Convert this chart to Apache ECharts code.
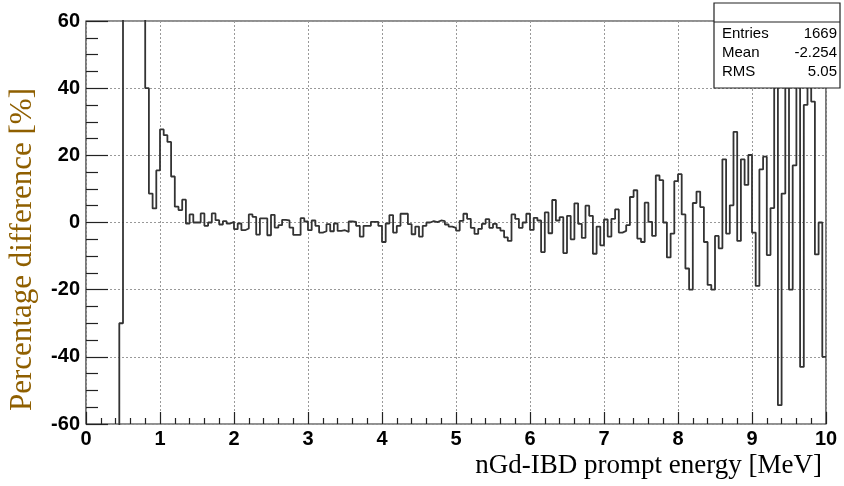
<!DOCTYPE html>
<html><head><meta charset="utf-8">
<script src="https://cdn.jsdelivr.net/npm/echarts@6/dist/echarts.min.js"></script>
<style>html,body{margin:0;padding:0;background:#fff}#c{width:844px;height:486px}</style>
</head><body><div id="c"></div>
<script>
// Histogram: percentage difference per 0.05 MeV bin, bins from 0 to 10 MeV
const binWidth = 0.05;
const values = [
  -100,-100,-100,-100,-100,-100,-100,-100,-100,-30,
  100,100,100,100,100,100,40,8.6,4.2,15.5,
  27.7,26,24,13.7,4.7,3.7,6.8,-0.3,2.4,0,
  0,2.7,-1,0,2.7,0.7,-0.6,0.4,-0.3,0.2,
  -2,-0.3,-2.3,-1.8,2.4,1.7,-3.6,1.2,1.2,-3.8,
  2.3,-1.5,-0.8,0.8,0.6,-1.5,-3.7,-3.7,1.3,0.3,
  -2.3,0.6,-1,-3,-2.6,-0.5,-2.6,-0.3,-2.5,-2.3,
  -2.8,0.3,0.2,-1,-4.2,-1,-1,0.2,0.2,-1,
  -5.8,-0.3,2.2,-3,-1,2.6,2.6,-0.5,-3.5,-1.2,
  -4.2,-1,0,0.4,0.1,0.6,0.4,-0.6,-1.2,-1.6,
  -2.4,0.5,2.6,1.1,-1.6,-3.4,-1.9,-0.4,1,-1.6,
  -0.4,-1.6,-2.4,-4.4,-5.5,2.4,1.1,-1.6,0,2.6,
  -2.2,1.4,0.6,-8.8,3,-3.2,6.7,0.6,1.6,-9.1,
  2,-5,5.7,-0.4,-4.6,5,2,-9.3,-1.2,-6.8,
  0.9,-4.2,1.1,3.9,-3,-2.5,-0.8,7.6,9.6,-4.8,
  -5.8,5.9,0.2,-4,14,12.6,0,-10.4,-3.3,12.3,
  14.4,2.4,-13.7,-20,5.8,9.2,4.6,-5.8,-18.6,-20,
  -4,-7.7,18.8,-3.3,5.1,27,-5.5,18.8,11.2,20.1,
  -3,-18.9,15.8,19.6,-9.7,4.3,70,-54.4,8.6,55,
  -20,17,65,-43,35,50,36,-9.5,0,-40
];
const xTicks = [0,1,2,3,4,5,6,7,8,9,10];
const yTicks = [-60,-40,-20,0,20,40,60];
const statsNames = ['Entries','Mean','RMS'];
const statsValues = ['1669','-2.254','5.05'];
const xTitle = 'nGd-IBD prompt energy [MeV]';
const yTitle = 'Percentage difference [%]';

const lowEdges = values.map((_, i) => +(i * binWidth).toFixed(2));
const seriesData = values.map((v, i) => [lowEdges[i], v]);
seriesData.push([xTicks[xTicks.length - 1], values[values.length - 1]]);

const labelFont = '"Liberation Sans Narrow","Arial Narrow","Liberation Sans",Arial,sans-serif';
const chart = echarts.init(document.getElementById('c'), null, {renderer: 'canvas'});
const statRows = [34, 53, 72];
const graphics = [
  {type:'rect', z:100, shape:{x:714, y:3, width:126, height:85}, style:{fill:'#fff', stroke:'#222', lineWidth:1.2}},
  {type:'line', z:101, shape:{x1:714, y1:22, x2:840, y2:22}, style:{stroke:'#222', lineWidth:1.2}},
  {type:'text', z:101, x:822, y:466, style:{text:xTitle, font:'27px "Liberation Serif", "Times New Roman", serif', fill:'#000', align:'right', verticalAlign:'middle'}},
  {type:'text', z:101, x:23, y:88, rotation:Math.PI/2, style:{text:yTitle, font:'31px "Liberation Serif", "Times New Roman", serif', fill:'#8f5f00', align:'right', verticalAlign:'middle'}}
];
statsNames.forEach((n, i) => {
  graphics.push({type:'text', z:101, x:722, y:statRows[i], style:{text:n, font:'15px "Liberation Sans", Arial, sans-serif', fill:'#000', align:'left', verticalAlign:'middle'}});
  graphics.push({type:'text', z:101, x:837, y:statRows[i], style:{text:statsValues[i], font:'15px "Liberation Sans", Arial, sans-serif', fill:'#000', align:'right', verticalAlign:'middle'}});
});

chart.setOption({
  animation: false,
  backgroundColor: '#fff',
  grid: {left:86, right:18, top:21, bottom:62, show:true, borderColor:'#222', borderWidth:1.2, backgroundColor:'rgba(0,0,0,0)'},
  xAxis: {
    type:'value', min:xTicks[0], max:xTicks[xTicks.length-1], interval:1,
    axisLine:{show:false, onZero:false},
    axisTick:{show:true, inside:true, length:12, lineStyle:{color:'#222', width:1.2}},
    minorTick:{show:true, splitNumber:5, length:6, lineStyle:{color:'#222', width:1.2}},
    splitLine:{show:true, lineStyle:{type:[2,2], color:'#999', width:1}},
    axisLabel:{margin:5, fontSize:20, fontWeight:'bold', color:'#000', fontFamily:labelFont}
  },
  yAxis: {
    type:'value', min:yTicks[0], max:yTicks[yTicks.length-1], interval:20,
    axisLine:{show:false, onZero:false},
    axisTick:{show:true, inside:true, length:22, lineStyle:{color:'#222', width:1.2}},
    minorTick:{show:true, splitNumber:4, length:12, lineStyle:{color:'#222', width:1.2}},
    splitLine:{show:true, lineStyle:{type:[2,2], color:'#999', width:1}},
    axisLabel:{margin:6, fontSize:20, fontWeight:'bold', color:'#000', fontFamily:labelFont}
  },
  series: [{
    type:'line', step:'end', data:seriesData, showSymbol:false, clip:true, z:3,
    lineStyle:{color:'#333', width:1.8}
  }],
  graphic: graphics
});
</script></body></html>
